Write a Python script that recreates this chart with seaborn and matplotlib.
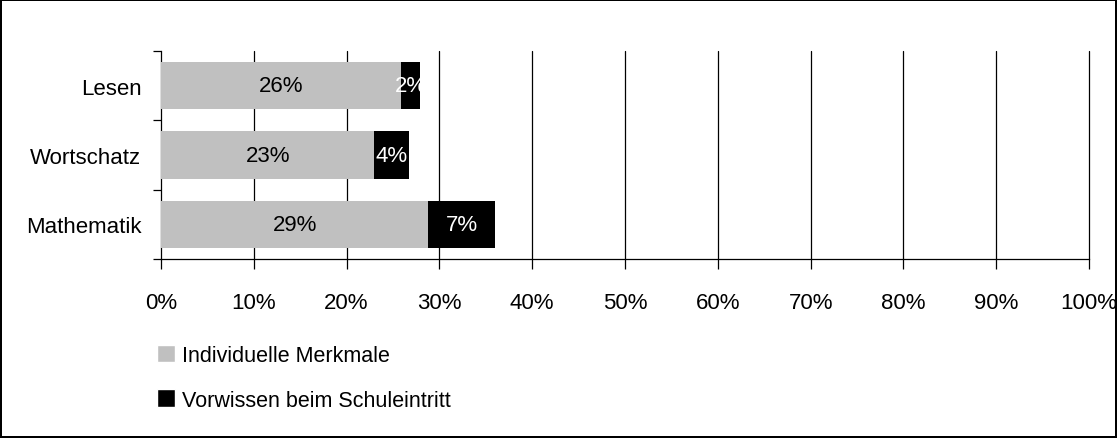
import numpy as np
import pandas as pd
import seaborn as sns
import matplotlib.pyplot as plt
from matplotlib.patches import Patch

# data
categories = ["Lesen", "Wortschatz", "Mathematik"]
individuell = [25.9, 23.0, 28.8]
vorwissen = [2.0, 3.7, 7.2]
label_ind = ["26%", "23%", "29%"]
label_vor = ["2%", "4%", "7%"]
xticks = list(range(0, 101, 10))

sns.set_style("white")
plt.rcParams['font.family'] = ['Liberation Sans', 'DejaVu Sans']
plt.rcParams['text.color'] = 'black'
plt.rcParams['xtick.color'] = 'black'
plt.rcParams['ytick.color'] = 'black'

df = pd.DataFrame({"cat": categories, "ind": individuell, "vor": vorwissen})
df["total"] = df["ind"] + df["vor"]

fig = plt.figure(figsize=(11.17, 4.39), dpi=100)
fig.patch.set_edgecolor("black")
fig.patch.set_linewidth(1.5)
ax = fig.add_axes([0.1441, 0.4077, 0.8309, 0.4738])

sns.barplot(data=df, y="cat", x="total", color="black", width=0.68,
            saturation=1, orient="h", ax=ax, zorder=3, linewidth=0)
sns.barplot(data=df, y="cat", x="ind", color="#c0c0c0", width=0.68,
            saturation=1, orient="h", ax=ax, zorder=4, linewidth=0)

fs = 16
for i in range(len(categories)):
    ax.text(individuell[i] / 2, i, label_ind[i], ha="center", va="center",
            color="black", fontsize=fs, zorder=5)
    ax.text(individuell[i] + vorwissen[i] / 2, i, label_vor[i], ha="center",
            va="center", color="white", fontsize=fs, zorder=5)

ax.set_xlim(0, 100)
ax.set_ylim(2.5, -0.5)
ax.set_xticks(xticks)
ax.set_xticklabels([f"{t}%" for t in xticks], fontsize=fs)
ax.set_xlabel("")
ax.set_ylabel("")
ax.tick_params(axis="y", length=0, pad=14, labelsize=fs)
ax.set_yticks([-0.5, 0.5, 1.5, 2.5], minor=True)
ax.tick_params(axis="y", which="minor", length=6, width=0.9, color="black",
               direction="out", left=True)
ax.tick_params(axis="x", length=7, width=0.9, color="black", direction="out",
               bottom=True, pad=17)
for x in xticks[1:]:
    ax.axvline(x, color="black", lw=0.9, zorder=1, clip_on=False)
for s in ["top", "right"]:
    ax.spines[s].set_visible(False)
for s in ["left", "bottom"]:
    ax.spines[s].set_color("black")
    ax.spines[s].set_linewidth(0.9)

handles = [Patch(facecolor="#c0c0c0", label="Individuelle Merkmale"),
           Patch(facecolor="black", label="Vorwissen beim Schuleintritt")]
fig.legend(handles=handles, loc="upper left", bbox_to_anchor=(0.133, 0.232),
           frameon=False, fontsize=fs - 0.5, handlelength=0.85, handleheight=0.85,
           handletextpad=0.3, labelspacing=1.1, borderaxespad=0)

fig.savefig("out.png", dpi=100)
